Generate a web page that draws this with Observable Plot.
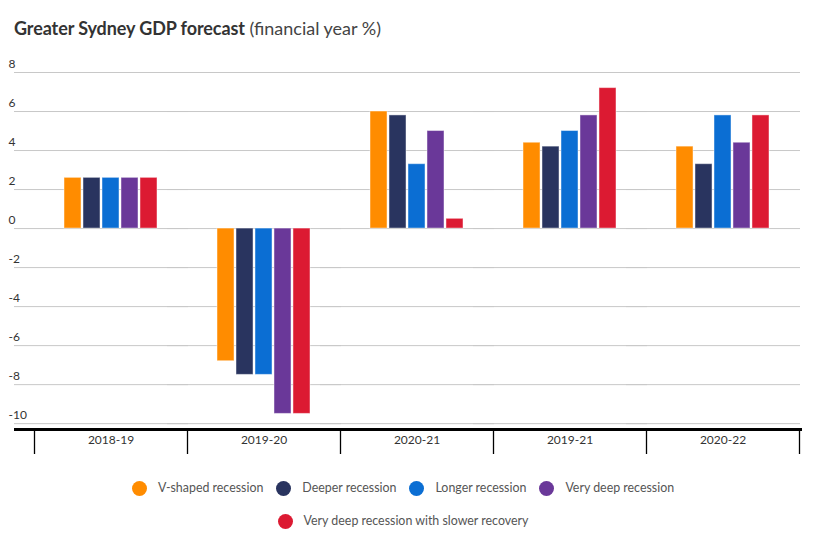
<!DOCTYPE html>
<html><head><meta charset="utf-8">
<script src="https://cdn.jsdelivr.net/npm/d3@7"></script>
<script src="https://cdn.jsdelivr.net/npm/@observablehq/plot@0.6"></script>
<style>
body{margin:0;background:#fff;font-family:Lato,"Noto Sans",sans-serif;}
#title{height:50px;box-sizing:border-box;padding:17px 0 0 14px;font-size:18px;color:#333;line-height:22px;white-space:nowrap;}
#title b{font-weight:700;letter-spacing:-0.1px}
#title span{font-weight:400;color:#444}
#legend{width:600px;margin-left:103px;margin-top:20px;display:flex;flex-wrap:wrap;justify-content:center;row-gap:17px;column-gap:13px;font-size:12.4px;color:#555;line-height:16px;}
.item{display:flex;align-items:center;white-space:nowrap}
.dot{width:15px;height:15px;border-radius:50%;margin-right:11px;display:inline-block}
</style></head>
<body>
<div id="title"><b>Greater Sydney GDP forecast</b> <span>(financial year %)</span></div>
<div id="chart"></div>
<div id="legend"></div>
<script>
const categories = ["2018-19", "2019-20", "2020-21", "2019-21", "2020-22"];
const seriesNames = ["V-shaped recession", "Deeper recession", "Longer recession", "Very deep recession", "Very deep recession with slower recovery"];
const colors = ["#ff8c00", "#29345f", "#0b6ed3", "#6a3899", "#dc1a32"];
const vShaped = [2.6, -6.8, 6.0, 4.4, 4.2];
const deeper = [2.6, -7.5, 5.8, 4.2, 3.3];
const longer = [2.6, -7.5, 3.3, 5.0, 5.8];
const veryDeep = [2.6, -9.5, 5.0, 5.8, 4.4];
const veryDeepSlow = [2.6, -9.5, 0.5, 7.2, 5.8];
const yTicks = [-10, -8, -6, -4, -2, 0, 2, 4, 6, 8];
const yDomain = [-10.3, 8];

const seriesValues = [vShaped, deeper, longer, veryDeep, veryDeepSlow];
const data = [];
seriesValues.forEach((vals, i) => vals.forEach((v, j) => data.push({category: categories[j], series: seriesNames[i], value: v})));

const plot = Plot.plot({
  width: 834, height: 410,
  marginTop: 22, marginBottom: 31, marginLeft: 34, marginRight: 35,
  style: {fontFamily: 'Lato, "Noto Sans", sans-serif', fontSize: "12px", color: "#333", background: "#fff"},
  fx: {domain: categories, padding: 0, label: null, axis: null, round: false},
  x: {domain: seriesNames, paddingInner: 0.105, paddingOuter: 1.58, axis: null, round: false},
  y: {domain: yDomain, axis: null},
  color: {domain: seriesNames, range: colors},
  marks: [
    Plot.gridY(yTicks, {stroke: "#c8c8c8", strokeOpacity: 1, insetLeft: -20, insetRight: -1}),
    Plot.barY(data, {fx: "category", x: "series", y: "value", fill: "series", stroke: "#fff", strokeOpacity: 0.45, strokeWidth: 1}),
    Plot.ruleY([yDomain[0]], {stroke: "#000", strokeWidth: 3, insetLeft: -20, insetRight: -3}),
    Plot.axisY(yTicks, {tickSize: 0, textAnchor: "start", dx: -17, dy: -8, label: null, fill: "#333", tickFormat: d => String(d)}),
    Plot.axisFx({anchor: "bottom", tickSize: 0, tickPadding: 6, label: null, fill: "#333"})
  ]
});
document.getElementById("chart").appendChild(plot);

// category dividers below the axis, placed with Plot's own fx and y scales
const fx = plot.scale("fx");
const ys = plot.scale("y");
const svg = d3.select(plot.tagName.toLowerCase() === "svg" ? plot : plot.querySelector("svg"));
const edges = categories.map(c => fx.apply(c)).concat([fx.apply(categories[categories.length - 1]) + fx.bandwidth]);
const base = ys.apply(yDomain[0]);
svg.append("g").attr("stroke", "#000").attr("stroke-width", 1.3)
  .selectAll("line").data(edges).join("line")
  .attr("x1", d => d + 0.5).attr("x2", d => d + 0.5)
  .attr("y1", base + 1).attr("y2", base + 25);

const legend = d3.select("#legend");
seriesNames.forEach((s, i) => {
  const it = legend.append("div").attr("class", "item");
  it.append("span").attr("class", "dot").style("background", colors[i]);
  it.append("span").text(s);
});
</script>
</body></html>
